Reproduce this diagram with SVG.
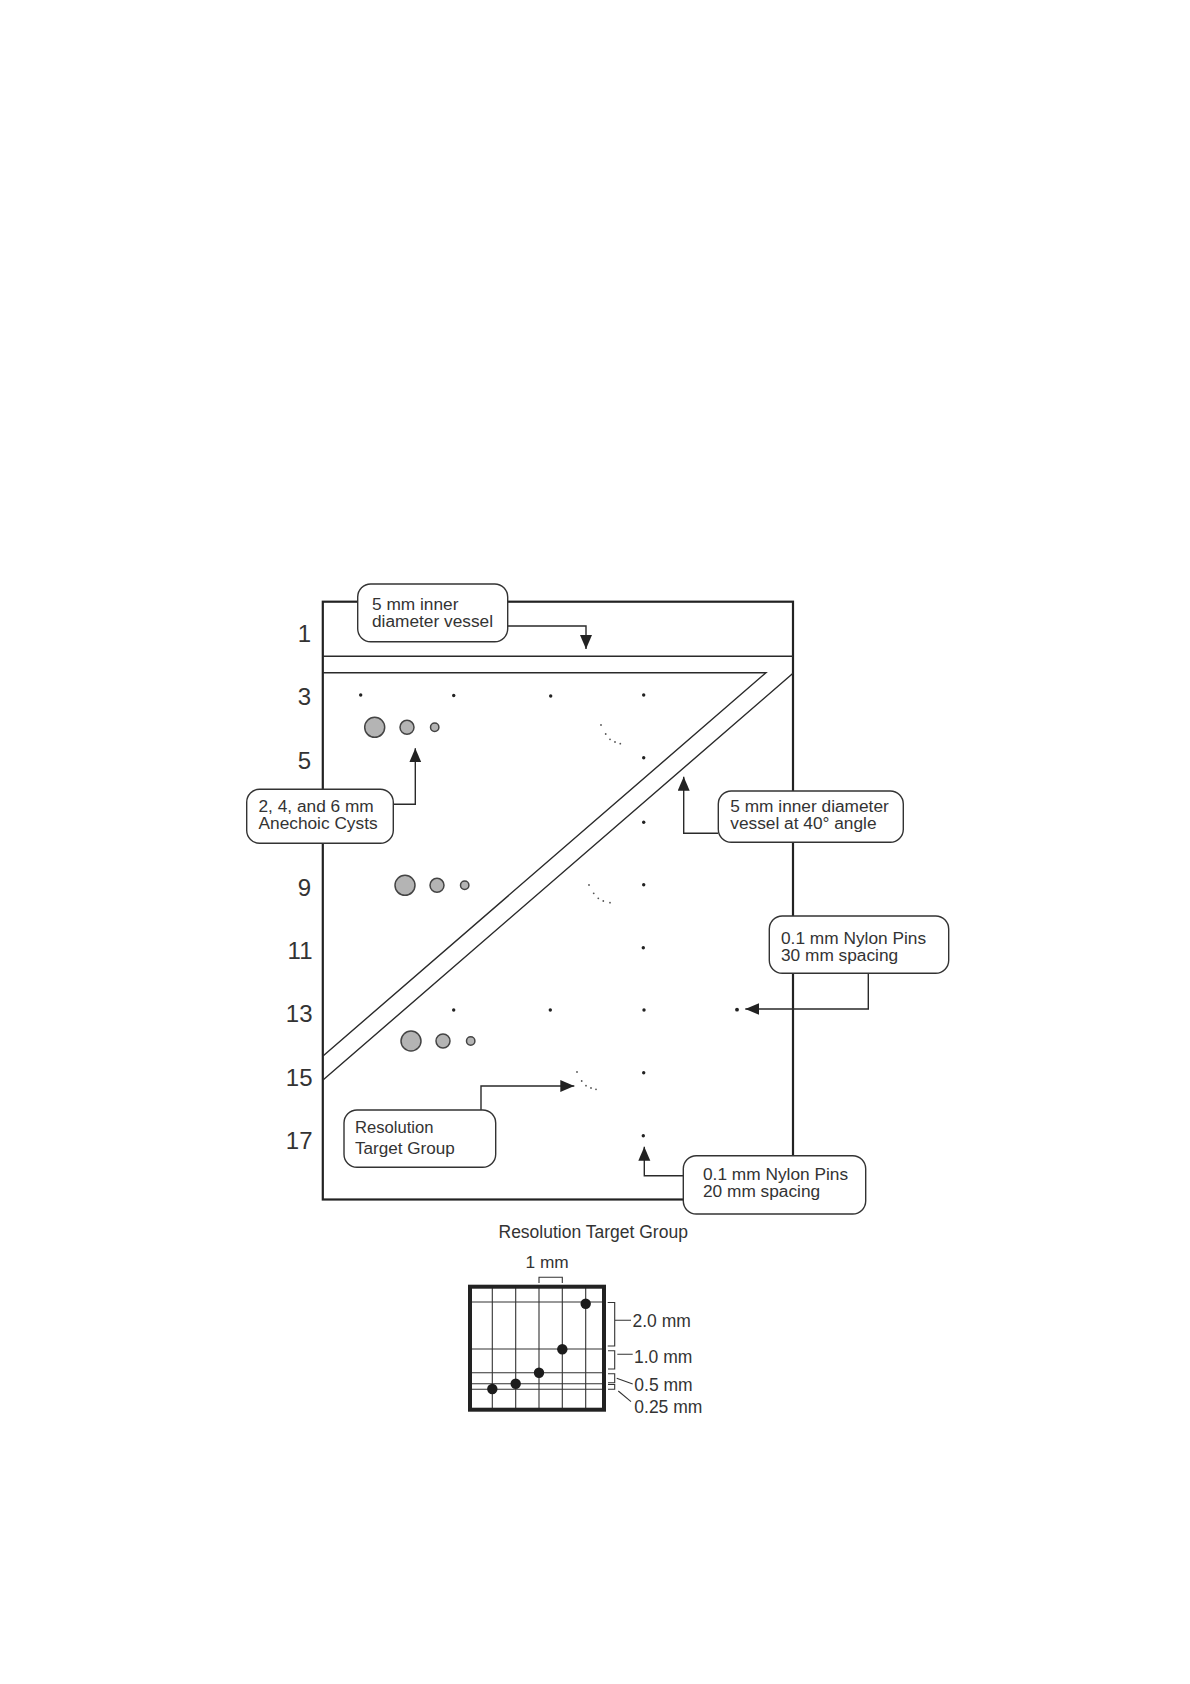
<svg xmlns="http://www.w3.org/2000/svg" width="1190" height="1684" viewBox="0 0 1190 1684">
<style>
text{font-family:"Liberation Sans",Arial,sans-serif;font-size:17.3px;fill:#333}
.num{font-size:24px;text-anchor:end}
.box{fill:#fff;stroke:#333;stroke-width:1.4}
.ln{fill:none;stroke:#2a2a2a;stroke-width:1.4}
.fr{fill:none;stroke:#222;stroke-width:2.2}
.cy{fill:#b4b4b4;stroke:#444;stroke-width:1.5}
.pin{fill:#222}
.sp{fill:#555}
.conn{fill:none;stroke:#2a2a2a;stroke-width:1.4;marker-end:url(#ah)}
.gl{fill:none;stroke:#333;stroke-width:1.1}
.dot{fill:#1c1c1c}
</style>
<defs>
<marker id="ah" markerUnits="userSpaceOnUse" markerWidth="16" markerHeight="14" refX="14" refY="6" orient="auto">
<path d="M0 0L14 6L0 12Z" fill="#222"/>
</marker>
</defs>
<rect width="1190" height="1684" fill="#fff"/>
<g id="phantom">
<rect class="fr" x="322.8" y="601.7" width="470.2" height="597.8"/>
<path class="ln" d="M323 656.3H793M323 672.7H766L323 1056M793 673.3L323 1080"/>
</g>
<g id="row-labels">
<text class="num" x="311" y="641.7">1</text>
<text class="num" x="311" y="705">3</text>
<text class="num" x="311" y="768.5">5</text>
<text class="num" x="311" y="896">9</text>
<text class="num" x="312.5" y="958.7">11</text>
<text class="num" x="312.5" y="1022">13</text>
<text class="num" x="312.5" y="1085.5">15</text>
<text class="num" x="312.5" y="1149">17</text>
</g>
<g id="pins">
<circle class="pin" cx="360.7" cy="695" r="1.7"/><circle class="pin" cx="453.7" cy="695.5" r="1.7"/><circle class="pin" cx="550.7" cy="696" r="1.7"/><circle class="pin" cx="643.7" cy="695" r="1.7"/>
<circle class="pin" cx="643.7" cy="757.7" r="1.7"/><circle class="pin" cx="643.7" cy="822.3" r="1.7"/><circle class="pin" cx="643.7" cy="884.7" r="1.7"/><circle class="pin" cx="643.3" cy="947.7" r="1.7"/>
<circle class="pin" cx="453.7" cy="1010" r="1.7"/><circle class="pin" cx="550.3" cy="1010" r="1.7"/><circle class="pin" cx="644" cy="1010" r="1.7"/><circle class="pin" cx="737" cy="1009.7" r="1.9"/>
<circle class="pin" cx="643.7" cy="1072.7" r="1.7"/><circle class="pin" cx="643.3" cy="1135.7" r="1.7"/>
</g>
<g id="cysts">
<circle class="cy" cx="374.7" cy="727.3" r="10"/><circle class="cy" cx="407" cy="727.3" r="7"/><circle class="cy" cx="434.7" cy="727.3" r="4.2"/>
<circle class="cy" cx="405" cy="885.3" r="10"/><circle class="cy" cx="437" cy="885.3" r="7"/><circle class="cy" cx="464.7" cy="885.3" r="4.2"/>
<circle class="cy" cx="411" cy="1041" r="10"/><circle class="cy" cx="443" cy="1041" r="7"/><circle class="cy" cx="470.7" cy="1041" r="4.2"/>
</g>
<g id="resolution-groups">
<circle class="sp" cx="601" cy="725" r=".9"/><circle class="sp" cx="605.7" cy="734" r=".9"/><circle class="sp" cx="610" cy="739.3" r=".9"/><circle class="sp" cx="615" cy="742" r=".9"/><circle class="sp" cx="620.3" cy="743.7" r=".9"/>
<circle class="sp" cx="589" cy="885" r=".9"/><circle class="sp" cx="593.7" cy="893.3" r=".9"/><circle class="sp" cx="598.3" cy="898.3" r=".9"/><circle class="sp" cx="603.3" cy="901" r=".9"/><circle class="sp" cx="610" cy="902.7" r=".9"/>
<circle class="sp" cx="577" cy="1072" r=".9"/><circle class="sp" cx="581.7" cy="1081" r=".9"/><circle class="sp" cx="586" cy="1085.7" r=".9"/><circle class="sp" cx="591" cy="1088" r=".9"/><circle class="sp" cx="596" cy="1089.3" r=".9"/>
</g>
<g id="connectors">
<path class="conn" d="M507.7 626H586V649"/>
<path class="conn" d="M393.3 804.3H415.3V748.3"/>
<path class="conn" d="M718.3 833.3H683.7V776.7"/>
<path class="conn" d="M868.3 973.3V1009H745.3"/>
<path class="conn" d="M481 1110V1086H574.3"/>
<path class="conn" d="M683.3 1175.7H644.3V1146.7"/>
</g>
<g id="callout-vessel">
<rect class="box" x="357.7" y="584" width="150" height="57.7" rx="13"/>
<text x="372" y="609.6">5 mm inner</text><text x="372" y="626.8">diameter vessel</text>
</g>
<g id="callout-cysts">
<rect class="box" x="246.7" y="789.3" width="146.6" height="54" rx="13"/>
<text x="258.5" y="812.4">2, 4, and 6 mm</text><text x="258.5" y="829.4">Anechoic Cysts</text>
</g>
<g id="callout-angle">
<rect class="box" x="718.3" y="791" width="185" height="51.3" rx="13"/>
<text x="730.3" y="812.4">5 mm inner diameter</text><text x="730.3" y="829.4">vessel at 40° angle</text>
</g>
<g id="callout-30mm">
<rect class="box" x="769.3" y="916" width="179.4" height="57.3" rx="13"/>
<text x="781" y="944">0.1 mm Nylon Pins</text><text x="781" y="961">30 mm spacing</text>
</g>
<g id="callout-target">
<rect class="box" x="344" y="1110" width="151.7" height="57.3" rx="13"/>
<text x="355" y="1132.7" style="font-size:16.6px">Resolution</text><text x="355" y="1154" style="font-size:17.1px">Target Group</text>
</g>
<g id="callout-20mm">
<rect class="box" x="683.3" y="1155.7" width="182.4" height="58.3" rx="13"/>
<text x="703" y="1180">0.1 mm Nylon Pins</text><text x="703" y="1197.3">20 mm spacing</text>
</g>
<g id="target-detail">
<text x="498.5" y="1238.3" style="font-size:17.5px">Resolution Target Group</text>
<text x="525.5" y="1268.3">1 mm</text>
<path class="gl" d="M539 1283V1277.3H562.3V1283"/>
<path class="gl" d="M492.3 1287V1410M515.7 1287V1410M539 1287V1410M562.3 1287V1410M585.7 1287V1410M470 1302H604M470 1349H604M470 1372.7H604M470 1383.7H604M470 1389.3H604"/>
<rect x="470" y="1286.7" width="134" height="123" fill="none" stroke="#222" stroke-width="4"/>
<circle class="dot" cx="585.7" cy="1303.7" r="5.2"/><circle class="dot" cx="562.3" cy="1349.3" r="5.2"/><circle class="dot" cx="539" cy="1372.7" r="5.2"/><circle class="dot" cx="515.7" cy="1383.7" r="5.2"/><circle class="dot" cx="492.3" cy="1389" r="5.2"/>
<path class="gl" d="M607.7 1302.5H614.7V1346H607.7M614.7 1320.3H631M608 1350.7H614.7V1369H608M617.3 1354.3H632.7M608 1373.7H614.7V1382.7H608M608 1384.5H614.7V1389.3H608M616.7 1378.3L632.7 1384M618.3 1391L631 1401.7"/>
<text x="632.5" y="1327.3" style="font-size:17.5px">2.0 mm</text>
<text x="634" y="1363.3" style="font-size:17.5px">1.0 mm</text>
<text x="634.3" y="1391" style="font-size:17.5px">0.5 mm</text>
<text x="634.3" y="1412.7" style="font-size:17.5px">0.25 mm</text>
</g>
</svg>
